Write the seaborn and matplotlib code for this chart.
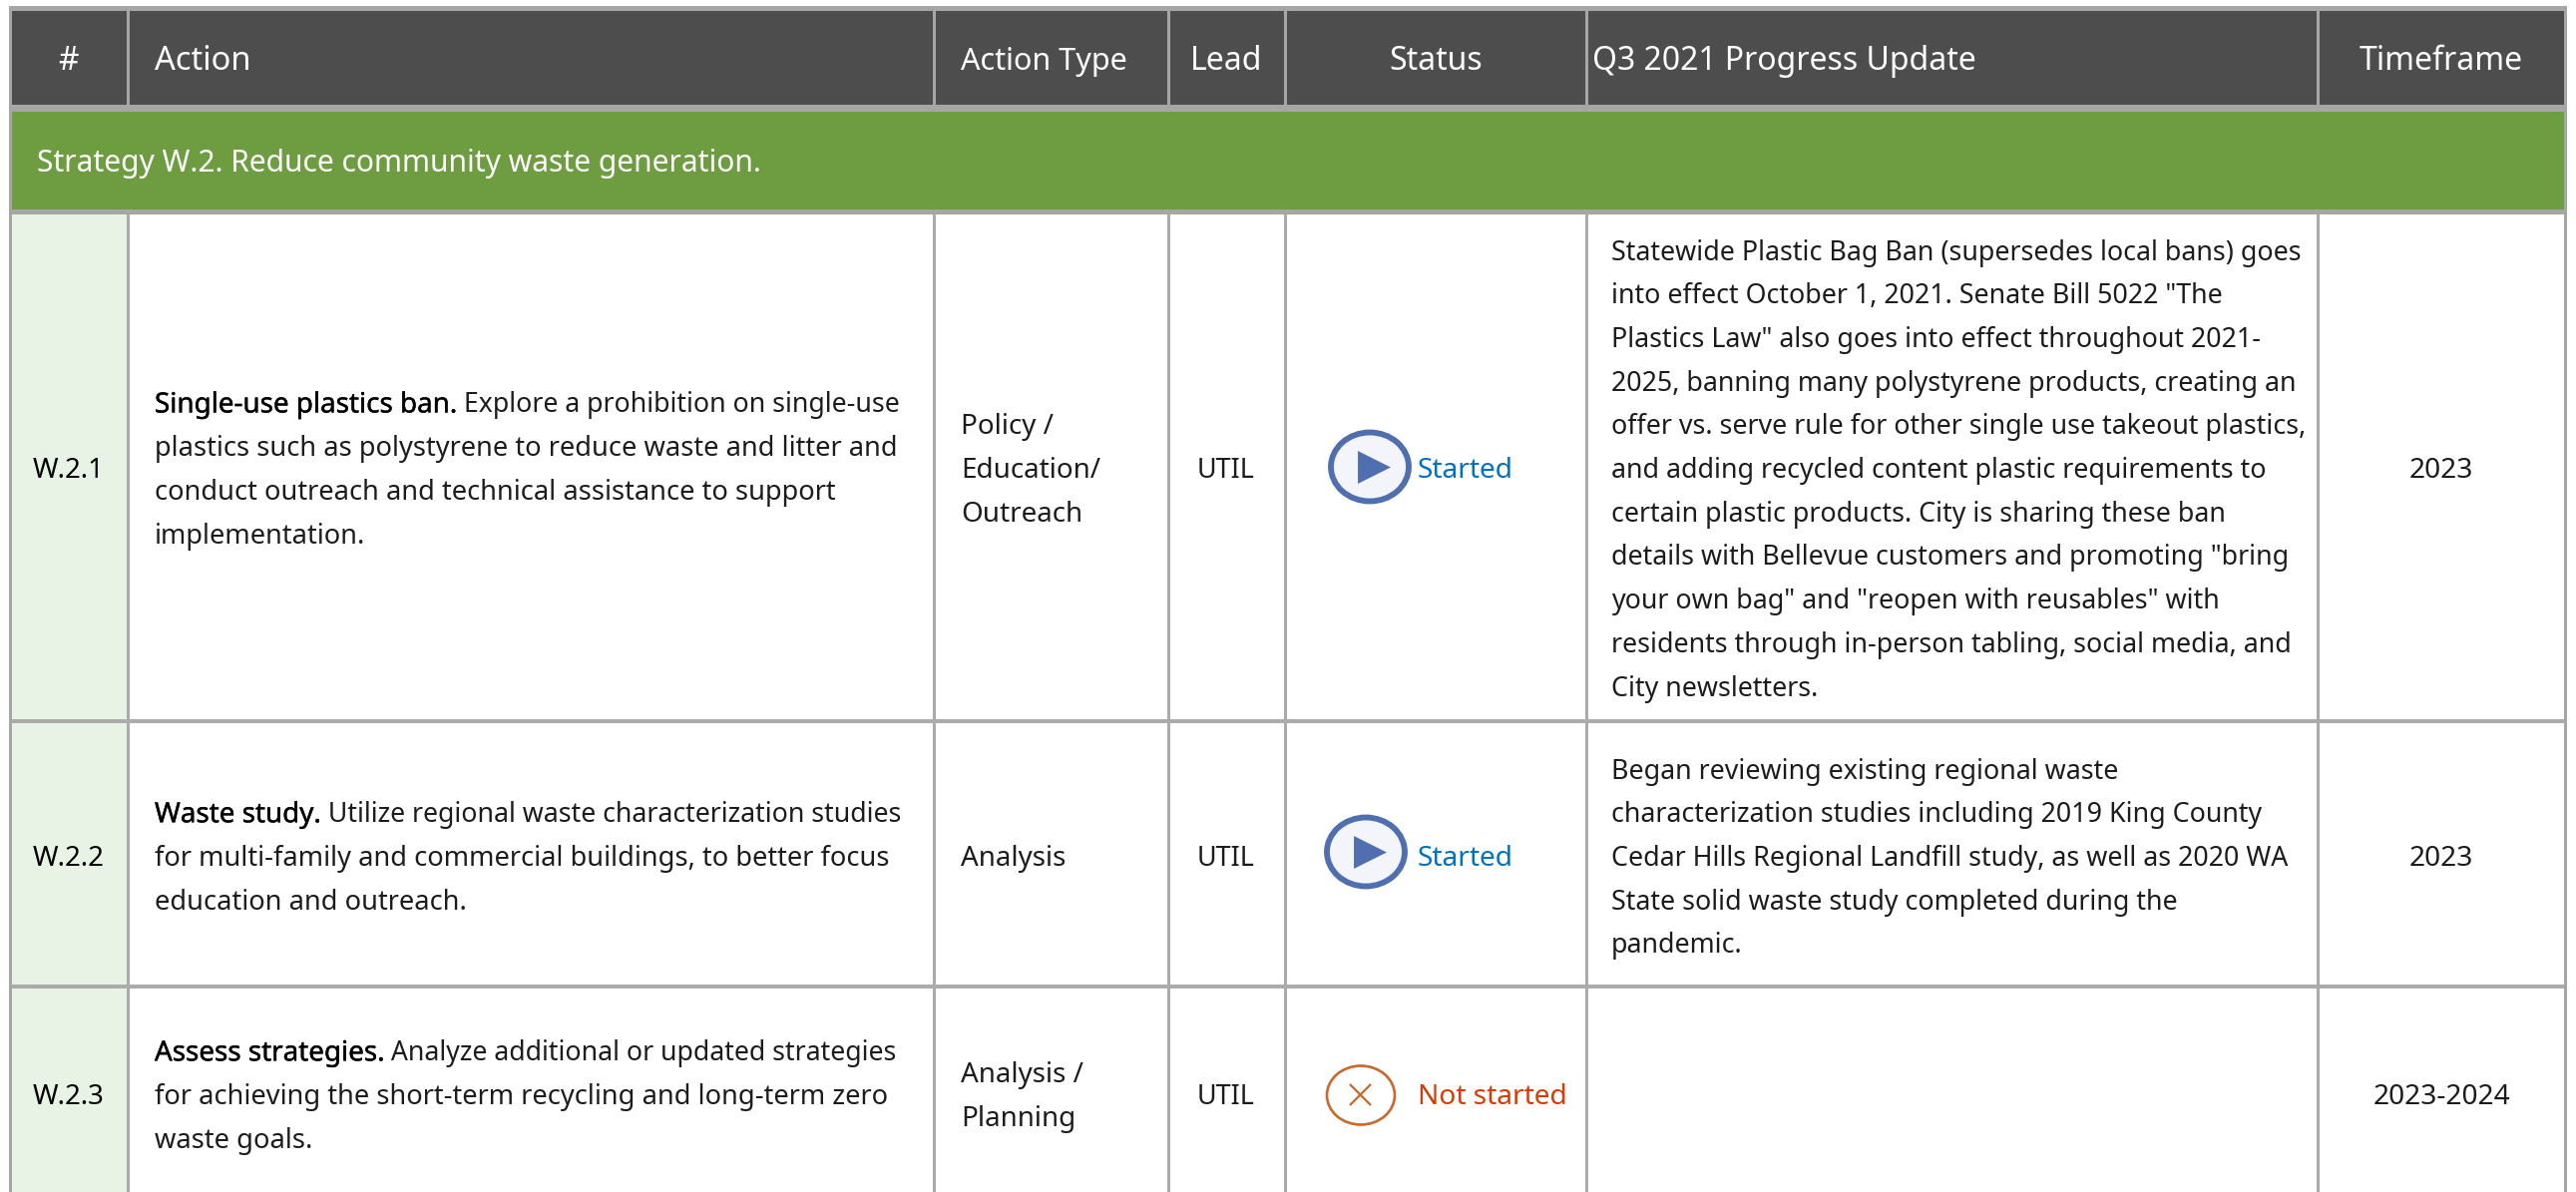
import matplotlib
matplotlib.use('Agg')
import matplotlib.pyplot as plt
import matplotlib.patheffects as pe
from matplotlib.patches import Ellipse, Rectangle
import pandas as pd
import seaborn as sns

# table contents
headers = ['#', 'Action', 'Action Type', 'Lead', 'Status', 'Q3 2021 Progress Update', 'Timeframe']
strategy = 'Strategy W.2. Reduce community waste generation.'
ids = ['W.2.1', 'W.2.2', 'W.2.3']
action_titles = ['Single-use plastics ban.', 'Waste study.', 'Assess strategies.']
actions = [
    [' Explore a prohibition on single-use',
     'plastics such as polystyrene to reduce waste and litter and',
     'conduct outreach and technical assistance to support',
     'implementation.'],
    [' Utilize regional waste characterization studies',
     'for multi-family and commercial buildings, to better focus',
     'education and outreach.'],
    [' Analyze additional or updated strategies',
     'for achieving the short-term recycling and long-term zero',
     'waste goals.'],
]
action_types = [['Policy /', 'Education/', 'Outreach'], ['Analysis'], ['Analysis /', 'Planning']]
leads = ['UTIL', 'UTIL', 'UTIL']
statuses = ['Started', 'Started', 'Not started']
progress = [
    ['Statewide Plastic Bag Ban (supersedes local bans) goes',
     'into effect October 1, 2021. Senate Bill 5022 "The',
     'Plastics Law" also goes into effect throughout 2021-',
     '2025, banning many polystyrene products, creating an',
     'offer vs. serve rule for other single use takeout plastics,',
     'and adding recycled content plastic requirements to',
     'certain plastic products. City is sharing these ban',
     'details with Bellevue customers and promoting "bring',
     'your own bag" and "reopen with reusables" with',
     'residents through in-person tabling, social media, and',
     'City newsletters.'],
    ['Began reviewing existing regional waste',
     'characterization studies including 2019 King County',
     'Cedar Hills Regional Landfill study, as well as 2020 WA',
     'State solid waste study completed during the',
     'pandemic.'],
    [],
]
timeframes = ['2023', '2023', '2023-2024']

# layout in image pixels
W, H = 2582, 1195
col_x = [128, 936, 1171, 1288, 1590, 2323]
left, right = 11, 2571
row_y = [723, 989]
mid_base = [479, 868, 1107]
line_h = 43.7
fs = 20.2
fs_action = 19.6
fs_progress = 19.3

GREY = '#A6A6A6'
LINE = '#ABABAB'
DARK = '#4D4D4D'
GREEN = '#6E9C40'
PALE = '#E8F2E5'
INK = '#1C1C1C'

sns.set_theme(style='white')
plt.rcParams['font.family'] = ['Noto Sans', 'DejaVu Sans']

fig = plt.figure(figsize=(W / 100, H / 100), dpi=100)
ax = fig.add_axes([0, 0, 1, 1])
ax.set_xlim(0, W)
ax.set_ylim(H, 0)
ax.axis('off')


def rect(x0, y0, x1, y1, color, z=1):
    ax.add_patch(Rectangle((x0, y0), x1 - x0, y1 - y0, facecolor=color, edgecolor='none', zorder=z))


# bands
rect(left, 8, right, 108, DARK)
rect(left, 112, right, 210, GREEN)
rect(left, 213, col_x[0], H, PALE)

# rules
rect(left - 2, 6, right + 2, 11, GREY, 2)
rect(left - 2, 105, right + 2, 112, GREY, 2)
rect(left - 2, 210, right + 2, 215, GREY, 2)
for y in row_y:
    rect(left - 2, y - 2, right + 2, y + 2, LINE, 2)
rect(left - 2, 6, left + 1, H, GREY, 2)
rect(right - 1, 6, right + 2, H, GREY, 2)
for x in col_x:
    rect(x - 1.5, 11, x + 1.5, 105, GREY, 2)
    rect(x - 1.5, 215, x + 1.5, H, LINE, 2)

# header text
head_x = [69, 155, 963, 1229, 1439, 1596, 2447]
head_align = ['center', 'left', 'left', 'center', 'center', 'left', 'center']
head_size = [23, 23.5, 22, 23, 23, 23, 23]
for x, ha, size, label in zip(head_x, head_align, head_size, headers):
    ax.text(x, 70, label, color='white', fontsize=size, ha=ha, va='baseline', zorder=3)
ax.text(37, 172, strategy, color='white', fontsize=21.6, ha='left', va='baseline', zorder=3)


def block(x, base, lines, size, color=INK):
    # lines stacked round the baseline of the middle of the row
    start = base - line_h * (len(lines) - 1) / 2
    for i, line in enumerate(lines):
        ax.text(x, start + i * line_h, line, color=color, fontsize=size, va='baseline', zorder=3)


renderer = fig.canvas.get_renderer()
for i in range(3):
    base = mid_base[i]
    ax.text(69, base, ids[i], color='black', fontsize=19.8, ha='center', va='baseline', zorder=3)

    # title run in black, the rest of that line carries on after it
    start = base - line_h * (len(actions[i]) - 1) / 2
    t = ax.text(155, start, action_titles[i], color='black', fontsize=20, va='baseline',
                fontweight='medium', zorder=3,
                path_effects=[pe.withStroke(linewidth=0.25, foreground='black')])
    end = t.get_window_extent(renderer).x1
    ax.text(end, start, actions[i][0], color=INK, fontsize=19.2, va='baseline', zorder=3)
    for j, line in enumerate(actions[i][1:], 1):
        ax.text(155, start + j * line_h, line, color=INK, fontsize=fs_action, va='baseline', zorder=3)

    block(963, base, action_types[i], 20)
    ax.text(1229, base, leads[i], color=INK, fontsize=19.4, ha='center', va='baseline', zorder=3)
    block(1615, base, progress[i], fs_progress)
    ax.text(2447, base, timeframes[i], color=INK, fontsize=fs, ha='center', va='baseline', zorder=3)
    ax.text(1421, base, statuses[i], fontsize=fs, va='baseline', zorder=3,
            color='#0070C0' if statuses[i] == 'Started' else '#D83B01')

# status icons
ax.add_patch(Ellipse((1373, 468), 78, 69, facecolor='#F3F5FA', edgecolor='#4F6FB0', linewidth=4.2, zorder=3))
ax.add_patch(Ellipse((1369, 854), 78, 69, facecolor='#F3F5FA', edgecolor='#4F6FB0', linewidth=4.2, zorder=3))
ax.add_patch(Ellipse((1364, 1098), 68, 59, facecolor='white', edgecolor='#C8682A', linewidth=1.9, zorder=3))

started = pd.DataFrame({'x': [1377, 1373], 'y': [468, 854]})
sns.scatterplot(data=started, x='x', y='y', marker='>', s=560, color='#4F6FB0', linewidth=0, ax=ax, zorder=4, legend=False)
stopped = pd.DataFrame({'x': [1363], 'y': [1097]})
sns.scatterplot(data=stopped, x='x', y='y', marker='x', s=230, color='#C8682A', linewidth=1.6, ax=ax, zorder=4, legend=False)
ax.set_xlim(0, W)
ax.set_ylim(H, 0)

fig.savefig('out.png', dpi=100, facecolor='white')
